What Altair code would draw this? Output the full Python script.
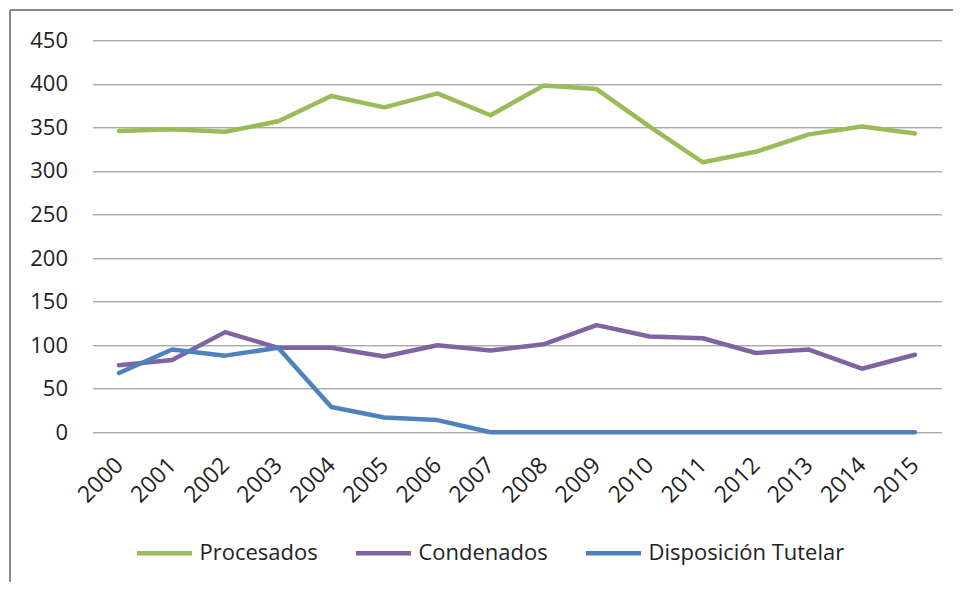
import altair as alt
import pandas as pd

years = [str(y) for y in range(2000, 2016)]
procesados = [346, 348, 345, 357, 386, 373, 389, 364, 398, 394, 351, 310, 322, 342, 351, 343]
condenados = [77, 83, 115, 97, 97, 87, 100, 94, 101, 123, 110, 108, 91, 95, 73, 89]
tutelar = [68, 95, 88, 97, 29, 17, 14, 0, 0, 0, 0, 0, 0, 0, 0, 0]

series_names = ["Procesados", "Condenados", "Disposición Tutelar"]
series_colors = ["#9BBB59", "#8064A2", "#4F81BD"]
y_ticks = list(range(0, 451, 50))

rows = []
for name, vals in zip(series_names, [procesados, condenados, tutelar]):
    for yr, v in zip(years, vals):
        rows.append({"Año": yr, "Serie": name, "Valor": v})
df = pd.DataFrame(rows)

FONT = "Open Sans"

lines = alt.Chart(df).mark_line(strokeWidth=4.5, strokeCap="round", strokeJoin="round").encode(
    x=alt.X("Año:O", sort=years, scale=alt.Scale(type="point", padding=0.5),
            axis=alt.Axis(title=None, labelAngle=-45, labelAlign="right", labelBaseline="middle",
                          labelPadding=29, ticks=False, tickSize=0, domain=False, grid=False,
                          labelFontSize=23, labelFont=FONT, labelColor="#222222")),
    y=alt.Y("Valor:Q", scale=alt.Scale(domain=[0, 450], nice=False),
            axis=alt.Axis(title=None, values=y_ticks, ticks=False, tickSize=0, domain=False,
                          labelPadding=25, labelFontSize=22, labelFont=FONT, labelColor="#222222",
                          grid=True, gridColor="#868686", gridWidth=1)),
    color=alt.Color("Serie:N", scale=alt.Scale(domain=series_names, range=series_colors),
                    legend=alt.Legend(title=None, orient="none", legendX=42, legendY=483,
                                      direction="horizontal", symbolType="stroke",
                                      symbolSize=3025, symbolStrokeWidth=4.5,
                                      labelFontSize=22, labelFont=FONT, labelColor="#222222",
                                      labelLimit=0, columnPadding=28, labelOffset=5)),
)

frame_top = alt.Chart().mark_rule(color="#898989", strokeWidth=2).encode(
    x=alt.value(-82.5), x2=alt.value(900), y=alt.value(-30.3))
frame_left = alt.Chart().mark_rule(color="#898989", strokeWidth=2).encode(
    x=alt.value(-82.5), y=alt.value(-30.3), y2=alt.value(600))

chart = alt.layer(lines, frame_top, frame_left).properties(
    width=849, height=392,
    autosize=alt.AutoSizeParams(type="none"),
    padding={"left": 84.5, "top": 32.3, "right": 11, "bottom": 150},
    background="white",
).configure_view(stroke=None)

chart.save("out.html", embed_options={"renderer": "svg", "actions": False})
